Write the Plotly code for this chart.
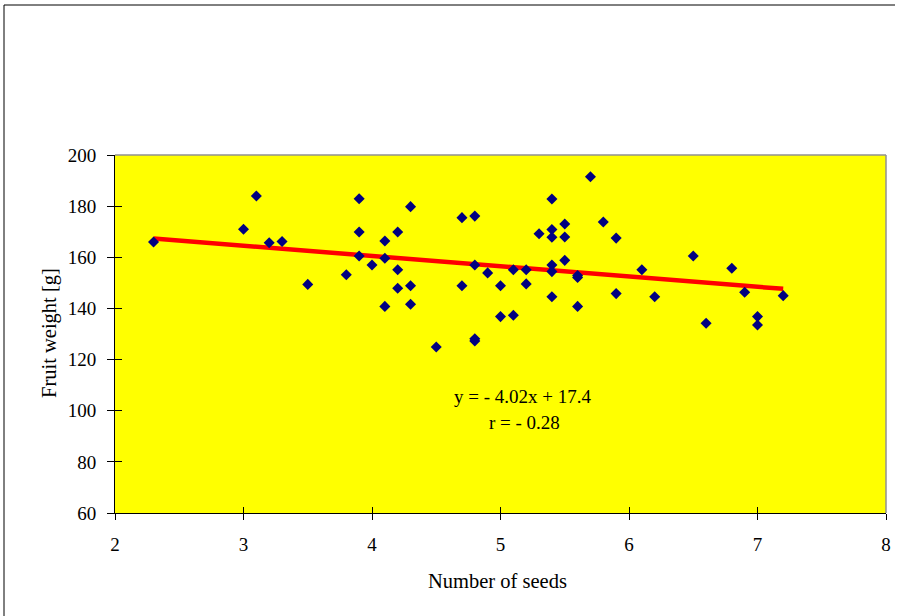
import plotly.graph_objects as go

# ---- data ----
seeds = [2.3, 3.0, 3.1, 3.2, 3.3, 3.5, 3.8, 3.9, 3.9, 3.9, 4.0, 4.1, 4.1, 4.1,
         4.2, 4.2, 4.2, 4.3, 4.3, 4.3, 4.5, 4.7, 4.7, 4.8, 4.8, 4.8, 4.8, 4.9,
         5.0, 5.0, 5.1, 5.1, 5.2, 5.2, 5.3, 5.4, 5.4, 5.4, 5.4, 5.4, 5.4, 5.5,
         5.5, 5.5, 5.6, 5.6, 5.6, 5.7, 5.8, 5.9, 5.9, 6.1, 6.2, 6.5, 6.6, 6.8,
         6.9, 7.0, 7.0, 7.2]
fruit_weight = [166, 171, 184, 165.7, 166.2, 149.4, 153.2, 182.9, 169.9, 160.5,
                157.0, 166.4, 159.6, 140.8, 169.9, 155.1, 147.9, 179.8, 148.9,
                141.6, 124.9, 175.5, 148.9, 176.1, 157.0, 127.3, 128.1, 153.9,
                148.9, 136.8, 155.1, 137.3, 155.1, 149.6, 169.2, 182.8, 170.9,
                167.8, 157.0, 154.4, 144.6, 173.0, 167.9, 158.8, 152.9, 152.1,
                140.8, 191.5, 173.8, 167.5, 145.8, 155.1, 144.6, 160.5, 134.2,
                155.7, 146.3, 136.8, 133.5, 145.0]

trend_slope = -4.02
trend_intercept = 176.6
trend_x = [2.3, 7.2]
trend_y = [trend_slope * x + trend_intercept for x in trend_x]

x_ticks = [2, 3, 4, 5, 6, 7, 8]
y_ticks = [60, 80, 100, 120, 140, 160, 180, 200]
equation_text = "y = - 4.02x + 17.4"
r_text = "r = - 0.28"
x_title = "Number of seeds"
y_title = "Fruit weight [g]"

FONT = "Times New Roman, Liberation Serif, DejaVu Serif, serif"
W, H = 899, 616
L, R, T, B = 115, 13, 155, 103
pw, ph = W - L - R, H - T - B


def px_x(p):
    return (p - L) / pw


def px_y(p):
    return (H - B - p) / ph


fig = go.Figure()
fig.add_trace(go.Scatter(
    x=trend_x, y=trend_y, mode="lines",
    line=dict(color="#FF0000", width=4.5), hoverinfo="skip", showlegend=False))
fig.add_trace(go.Scatter(
    x=seeds, y=fruit_weight, mode="markers",
    marker=dict(symbol="diamond", size=8.5, color="#000080"),
    showlegend=False))

axis_common = dict(showgrid=False, zeroline=False, linecolor="black", linewidth=1,
                   tickcolor="black", tickwidth=1, automargin=False,
                   tickfont=dict(family=FONT, size=19, color="black"))

fig.update_layout(
    width=W, height=H,
    margin=dict(l=L, r=R, t=T, b=B, autoexpand=False),
    paper_bgcolor="white", plot_bgcolor="#FFFF00",
    font=dict(family=FONT, color="black"),
    xaxis=dict(range=[2, 8], tickvals=x_ticks, ticks="outside", ticklen=6,
               showline=True, ticklabelstandoff=8, **axis_common),
    yaxis=dict(range=[60, 200], tickvals=y_ticks, ticks="outside", ticklen=7,
               showline=True, ticklabelstandoff=7, **axis_common),
    xaxis2=dict(range=[2, 8], tickvals=x_ticks, ticks="inside", ticklen=6,
                overlaying="x", showticklabels=False, showline=False,
                showgrid=False, zeroline=False, tickcolor="black", automargin=False),
    yaxis2=dict(range=[60, 200], tickvals=y_ticks, ticks="inside", ticklen=7,
                overlaying="y", showticklabels=False, showline=False,
                showgrid=False, zeroline=False, tickcolor="black", automargin=False),
    shapes=[
        # gray top/right border of plot area
        dict(type="line", xref="paper", yref="paper", x0=0, x1=1, y0=1, y1=1,
             line=dict(color="#909090", width=1.5)),
        dict(type="line", xref="paper", yref="paper", x0=1, x1=1, y0=0, y1=1,
             line=dict(color="#909090", width=1.5)),
        # outer chart frame (top and left)
        dict(type="line", xref="paper", yref="paper", x0=px_x(4), x1=px_x(895),
             y0=px_y(5), y1=px_y(5), line=dict(color="black", width=1)),
        dict(type="line", xref="paper", yref="paper", x0=px_x(4), x1=px_x(4),
             y0=px_y(5), y1=px_y(620), line=dict(color="black", width=1)),
    ],
    annotations=[
        dict(text=equation_text, x=px_x(523), y=px_y(396), xref="paper", yref="paper",
             showarrow=False, xanchor="center", yanchor="middle",
             font=dict(family=FONT, size=19, color="black")),
        dict(text=r_text, x=px_x(524), y=px_y(422), xref="paper", yref="paper",
             showarrow=False, xanchor="center", yanchor="middle",
             font=dict(family=FONT, size=19, color="black")),
        dict(text=x_title, x=px_x(497), y=px_y(581), xref="paper", yref="paper",
             showarrow=False, xanchor="center", yanchor="middle",
             font=dict(family=FONT, size=20.5, color="black")),
        dict(text=y_title, x=px_x(49), y=px_y(333), xref="paper", yref="paper",
             showarrow=False, xanchor="center", yanchor="middle", textangle=-90,
             font=dict(family=FONT, size=20.5, color="black")),
    ],
)
# attach an invisible trace to the overlay axes so their ticks render
fig.add_trace(go.Scatter(x=[2], y=[60], xaxis="x2", yaxis="y2", mode="markers",
                         marker=dict(opacity=0), hoverinfo="skip", showlegend=False))

fig.write_html("out.html", config={"displayModeBar": False},
               post_script="document.body.style.margin='0';document.body.style.overflow='hidden';")
